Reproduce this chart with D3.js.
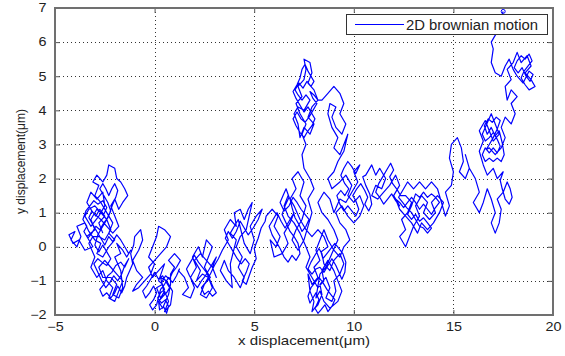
<!DOCTYPE html>
<html>
<head>
<meta charset="utf-8">
<script src="https://cdn.jsdelivr.net/npm/d3@7"></script>
<style>
  body { margin: 0; background: #fff; }
  text { font-family: "Liberation Sans", Arial, sans-serif; }
</style>
</head>
<body>
<svg id="chart" width="565" height="356"></svg>
<script>
// axis ticks
const xTicks = [-5, 0, 5, 10, 15, 20];
const yTicks = [-2, -1, 0, 1, 2, 3, 4, 5, 6, 7];
const seriesName = '2D brownian motion';

// walk, region by region (x, y in µm)
const walkA = [[-2.6,0.4],[-2.8,0.7],[-2.5,0.9],[-2.9,1.1],[-3.2,0.8],[-3.0,0.5],[-3.4,0.3],[-3.1,0.0],[-3.5,-0.1],[-3.8,0.2],[-4.1,0.1],[-4.3,0.35],[-4.0,0.45],[-4.2,0.2],[-3.9,0.0],[-3.7,0.3],[-3.9,0.6],[-3.5,0.7],[-3.3,0.45],[-3.0,0.2],[-2.7,0.1],[-2.9,-0.2],[-2.6,-0.3],[-2.3,0.0],[-2.0,0.2],[-2.3,0.4],[-2.1,0.7],[-2.4,1.0],[-2.7,1.3],[-3.0,1.5],[-2.8,1.8],[-3.1,1.9],[-2.9,2.1],[-2.6,1.9],[-2.4,2.1],[-2.3,2.4],[-2.0,2.3],[-1.9,2.0],[-1.7,1.9],[-1.5,1.7],[-1.35,1.5],[-1.6,1.3],[-1.8,1.1],[-2.0,1.4],[-2.2,1.2],[-2.0,0.9],[-1.8,0.6],[-2.1,0.4],[-2.4,0.6],[-2.7,0.8],[-3.1,1.0],[-3.4,1.3],[-3.2,1.6],[-2.9,1.4],[-2.6,1.6],[-2.5,1.2],[-2.8,0.9],[-3.2,0.6],[-3.5,0.9],[-3.3,1.1],[-3.0,1.2],[-2.7,1.0],[-2.4,0.8],[-2.2,0.5],[-2.5,0.2],[-2.8,0.3],[-3.1,0.3],[-3.3,0.1],[-3.0,-0.3],[-3.2,-0.6],[-2.9,-0.9],[-2.6,-0.7],[-2.4,-1.0],[-2.1,-1.2],[-2.3,-1.5],[-2.0,-1.6],[-1.8,-1.3],[-1.6,-1.0],[-1.9,-0.8],[-2.2,-0.6],[-2.5,-0.4],[-2.8,-0.6],[-2.6,-0.9],[-2.2,-0.9],[-1.9,-1.1],[-2.1,-1.4],[-1.8,-1.5],[-1.6,-1.2],[-1.7,-0.7],[-2.0,-0.3],[-1.7,-0.2],[-1.9,0.1],[-1.6,-0.1],[-1.4,-0.3],[-1.2,-0.1]];
const walkACore = [[-1.3,-0.2],[-1.5,0.0],[-1.7,0.2],[-1.9,0.35],[-2.1,0.15],[-2.3,0.3],[-2.5,0.05],[-2.7,0.25],[-2.9,0.45],[-3.1,0.65],[-3.3,0.85],[-3.15,1.05],[-2.95,0.9],[-2.75,1.1],[-2.55,0.95],[-2.4,1.15],[-2.6,1.35],[-2.85,1.25],[-3.05,1.35],[-3.25,1.2],[-3.45,1.05],[-3.6,0.8],[-3.4,0.6],[-3.55,0.45],[-3.35,0.25],[-3.15,0.4],[-2.95,0.6],[-2.75,0.5],[-2.55,0.7],[-2.35,0.85],[-2.2,1.05],[-2.35,1.3],[-2.55,1.5],[-2.75,1.7],[-2.6,1.85],[-2.45,1.7],[-2.3,1.5],[-2.15,1.7],[-2.0,1.85],[-1.85,1.65],[-1.95,1.45],[-2.1,1.25],[-2.25,1.0],[-2.45,0.75],[-2.65,0.55],[-2.85,0.35],[-3.0,0.05],[-2.8,-0.15],[-2.6,0.05],[-2.4,-0.15],[-2.2,-0.35],[-2.4,-0.55],[-2.65,-0.45],[-2.85,-0.35],[-3.05,-0.5],[-2.85,-0.75],[-2.65,-1.0],[-2.45,-1.2],[-2.25,-1.05],[-2.05,-0.85],[-1.85,-1.0],[-1.65,-0.8],[-1.5,-0.55],[-1.3,-0.35]];
const walkALow = [[-1.5,-0.6],[-1.7,-0.45],[-1.95,-0.55],[-2.15,-0.75],[-2.35,-0.85],[-2.55,-1.1],[-2.75,-1.25],[-2.6,-1.45],[-2.4,-1.35],[-2.2,-1.5],[-2.0,-1.35],[-1.85,-1.15],[-1.65,-1.35],[-1.5,-1.15],[-1.4,-0.9],[-1.25,-0.7],[-1.1,-0.5],[-1.2,-0.2],[-1.05,0.05]];
const walkB = [[-1.0,0.3],[-0.7,0.5],[-0.6,0.2],[-0.8,-0.1],[-1.1,-0.4],[-0.9,-0.7],[-0.6,-0.9],[-0.9,-1.1],[-1.1,-1.3],[-0.8,-1.2],[-0.5,-1.0],[-0.2,-0.8],[0.0,-0.5],[-0.3,-0.3],[-0.1,0.0],[0.1,0.3],[0.2,0.6],[0.5,0.5],[0.8,0.3],[0.6,0.0],[0.3,-0.2],[0.0,-0.4],[-0.3,-0.6],[-0.1,-0.9],[0.2,-0.7],[0.5,-0.5],[0.2,-1.0],[0.4,-1.1],[0.1,-1.2],[0.3,-1.5],[0.5,-1.3],[0.7,-1.6],[0.5,-1.9],[0.8,-1.7],[0.9,-1.3],[0.6,-1.0],[0.3,-0.9],[0.5,-1.4],[0.2,-1.6],[0.4,-1.8],[0.7,-1.4],[0.8,-1.1],[0.8,-0.8],[1.0,-0.6],[0.7,-0.4],[1.0,-0.2],[1.3,-0.4]];
const walkBCore = [[1.1,-0.6],[0.9,-0.75],[0.75,-0.95],[0.55,-0.85],[0.35,-1.05],[0.5,-1.25],[0.3,-1.35],[0.15,-1.5],[0.35,-1.65],[0.55,-1.55],[0.7,-1.75],[0.6,-1.95],[0.45,-1.75],[0.25,-1.85],[0.2,-1.6],[0.4,-1.45],[0.6,-1.35],[0.75,-1.2],[0.6,-1.05],[0.4,-0.85],[0.2,-0.95],[0.0,-0.75],[-0.2,-0.95],[-0.4,-1.15],[-0.6,-1.3],[-0.45,-1.5],[-0.25,-1.35],[-0.05,-1.15],[0.1,-1.35],[-0.05,-1.55],[-0.25,-1.7],[-0.1,-1.85],[0.1,-1.7],[0.3,-1.25],[0.5,-1.1],[0.7,-0.9],[0.9,-1.05],[1.1,-0.85],[1.25,-0.65]];
const walkC = [[1.2,-0.7],[1.5,-0.9],[1.7,-1.2],[1.4,-1.4],[1.8,-1.5],[2.0,-1.2],[1.8,-0.9],[2.1,-0.6],[1.9,-0.3],[2.2,0.0],[2.4,-0.3],[2.6,0.2],[2.9,0.0],[2.7,-0.3],[2.5,-0.6],[2.8,-0.9],[2.5,-1.1],[2.3,-1.4],[2.6,-1.5],[2.9,-1.2],[2.7,-0.9],[2.4,-0.8],[2.1,-1.0],[2.3,-0.7],[2.0,-0.4],[2.3,-0.2],[2.6,-0.4],[2.9,-0.6],[3.1,-0.9],[2.9,-0.6],[3.1,-0.3]];
const walkCCore = [[2.95,-0.45],[2.75,-0.65],[2.55,-0.85],[2.35,-1.0],[2.15,-1.2],[1.95,-1.05],[1.75,-0.85],[1.6,-0.65],[1.8,-0.45],[2.0,-0.25],[2.2,-0.45],[2.4,-0.6],[2.6,-0.75],[2.8,-1.0],[2.95,-1.2],[3.1,-1.35],[2.9,-1.45],[2.7,-1.3],[2.5,-1.4],[2.35,-1.2],[2.55,-1.05],[2.8,-0.8],[3.0,-0.55],[3.2,-0.35]];
const walkD = [[3.4,-0.1],[3.7,0.2],[3.5,0.5],[3.8,0.8],[4.1,0.6],[4.0,1.0],[4.3,1.1],[4.5,0.8],[4.7,1.1],[4.9,1.3],[4.6,0.5],[4.3,0.3],[4.1,0.0],[4.4,-0.3],[4.2,-0.6],[4.5,-0.9],[4.3,-1.2],[4.0,-0.9],[3.7,-0.7],[3.5,-0.4],[3.3,-0.7],[3.6,-1.0],[3.9,-1.2],[3.8,-0.5],[4.1,0.2],[3.8,0.4],[4.2,0.8],[4.5,0.1],[4.8,-0.2],[5.0,0.2],[4.8,0.6],[5.1,0.9],[5.4,1.1]];
const walkDCore = [[5.2,0.8],[4.95,0.55],[4.7,0.35],[4.5,0.55],[4.3,0.75],[4.1,0.45],[3.9,0.25],[3.7,0.45],[3.55,0.25],[3.75,0.05],[3.95,-0.15],[4.15,-0.35],[4.35,-0.5],[4.55,-0.35],[4.75,-0.5],[4.6,-0.75],[4.4,-1.0],[4.6,-1.1],[4.75,-0.85],[4.9,-0.6],[5.1,-0.35],[5.0,-0.05],[5.2,0.25],[5.35,0.55],[5.55,0.75]];
const walkE = [[5.6,0.9],[5.9,1.1],[6.2,0.9],[6.0,0.6],[6.3,0.3],[6.1,0.0],[5.8,0.2],[6.0,-0.3],[6.4,-0.2],[6.7,0.1],[6.5,0.4],[6.8,0.7],[7.0,1.0]];
const walkEFill = [[6.75,0.75],[6.55,0.55],[6.35,0.75],[6.15,1.0],[5.95,0.8],[5.75,0.6],[5.9,0.35],[6.1,0.15],[6.3,-0.05],[6.5,-0.3],[6.7,-0.45],[6.9,-0.25],[7.1,-0.4],[7.3,-0.2],[7.2,0.1],[7.0,0.3],[6.8,0.45],[6.6,0.7],[6.4,0.95],[6.55,1.2],[6.75,1.45],[6.6,1.7],[6.45,1.5],[6.3,1.3],[6.5,1.05],[6.75,1.2],[6.95,1.45],[7.15,1.3],[7.35,1.1],[7.55,0.95],[7.75,0.8],[7.6,0.6],[7.4,0.45],[7.25,0.65],[7.05,0.85],[6.9,1.15]];
const walkFColumn = [[6.8,1.4],[7.1,1.7],[6.9,2.0],[7.2,2.2],[7.5,1.9],[7.3,1.5],[7.6,1.2],[7.4,0.8],[7.1,0.5],[6.9,0.2],[7.2,-0.1],[7.5,0.2],[7.7,0.6],[7.9,1.0],[7.7,1.4],[8.0,1.7],[7.8,2.0],[7.5,2.3],[7.4,2.7],[7.6,3.0],[7.4,3.3],[7.6,3.6],[7.3,3.9],[7.1,4.2],[7.4,4.4],[7.2,4.7],[7.5,4.9],[7.6,5.2],[7.5,5.5],[7.8,5.4],[7.9,5.1],[7.7,4.8],[8.0,4.6],[8.2,4.3],[7.9,4.1],[7.7,3.8],[8.0,3.6],[7.8,3.3],[7.5,3.5],[7.3,3.2],[7.2,3.6],[7.0,3.9],[7.2,4.1],[7.5,4.0],[7.8,4.3]];
const walkFTop = [[7.6,4.45],[7.4,4.3],[7.2,4.45],[7.05,4.6],[7.25,4.8],[7.45,4.65],[7.65,4.85],[7.85,4.7],[8.0,4.85],[7.85,5.0],[7.7,5.15],[7.55,5.35],[7.4,5.2],[7.3,4.95],[7.15,4.75],[6.95,4.55],[7.1,4.35],[7.3,4.15],[7.5,3.95],[7.7,4.1],[7.9,3.9],[8.05,3.75],[7.9,3.55],[7.7,3.4],[7.5,3.2],[7.3,3.35],[7.1,3.55],[6.95,3.75],[7.15,3.95],[7.35,3.75],[7.55,3.65],[7.75,3.8],[7.95,4.0],[8.15,4.2],[7.95,4.35],[7.8,4.55],[8.0,4.45],[8.2,4.3]];
const walkFRight = [[8.4,4.3],[8.7,4.5],[9.0,4.7],[9.3,4.5],[9.5,4.2],[9.3,3.9],[9.6,3.6],[9.4,3.3],[9.1,3.5],[8.9,3.8],[9.1,4.1],[8.8,4.2],[8.7,3.9],[8.9,3.5],[9.2,3.2],[9.0,2.9],[9.3,2.7],[9.5,3.0],[9.7,3.3],[9.5,2.8],[9.2,2.5],[9.0,2.2],[8.7,2.0],[8.9,1.7],[9.3,1.9],[9.6,2.1],[9.9,1.8],[9.7,1.5],[10.0,1.3],[10.3,1.5],[10.5,1.2],[10.3,0.9],[10.0,0.7],[9.7,0.9],[9.4,1.2],[9.1,1.0],[9.3,0.7],[9.6,0.5],[9.8,0.2],[9.5,0.0],[9.3,-0.3],[9.0,-0.1],[8.7,0.2],[8.5,0.5],[8.3,0.2],[8.1,-0.1],[8.3,-0.4],[8.0,-0.6],[8.2,-0.9],[7.9,-1.1],[7.7,-0.8],[7.8,-1.3],[8.0,-1.6],[7.9,-1.9]];
const walkFBottom = [[8.1,-1.75],[8.25,-1.55],[8.1,-1.35],[7.95,-1.5],[7.8,-1.65],[7.7,-1.45],[7.85,-1.2],[8.05,-1.05],[8.25,-0.9],[8.45,-1.05],[8.65,-1.25],[8.85,-1.4],[9.05,-1.55],[8.9,-1.75],[8.7,-1.9],[8.55,-1.7],[8.35,-1.85],[8.2,-1.95],[8.05,-1.8],[8.2,-1.7],[8.4,-1.4],[8.3,-1.1],[8.6,-0.9],[8.8,-1.2],[8.6,-1.5],[8.9,-1.6],[9.1,-1.3],[9.0,-1.0],[9.3,-0.8],[9.5,-0.5],[9.3,-0.2],[9.0,-0.4],[8.8,-0.7],[8.5,-0.5],[8.4,-0.2],[8.25,-0.05],[8.05,-0.25],[7.85,-0.45],[7.7,-0.65],[7.9,-0.8],[8.1,-0.65],[8.3,-0.6],[8.5,-0.75],[8.7,-0.55],[8.9,-0.35],[9.1,-0.55],[9.25,-0.75],[9.4,-0.95],[9.55,-0.75],[9.6,-0.45],[9.45,-0.2],[9.25,-0.05],[9.05,0.1],[8.85,-0.05],[8.65,-0.2],[8.45,-0.35],[8.35,-0.15]];
const walkFMiddle = [[8.7,0.0],[8.5,0.3],[8.2,0.5],[7.9,0.3],[7.6,0.5],[7.3,0.8],[7.0,1.2],[6.7,1.5],[6.5,1.2],[6.7,0.9],[7.0,0.7],[7.3,0.4],[7.6,0.0],[7.8,-0.3],[7.6,-0.6],[7.9,-0.9],[8.2,-1.2],[8.5,-1.0],[8.4,-0.7],[8.7,-0.4],[9.0,-0.7],[9.2,-1.0],[9.4,-1.3],[9.2,-1.6],[8.8,-1.8],[8.5,-1.6],[8.3,-1.3],[8.1,-1.5],[8.3,-0.8],[8.6,-0.6],[8.9,-0.2],[9.2,0.2],[9.0,0.5],[8.7,0.8],[8.4,1.0],[8.2,1.3],[8.5,1.6],[8.8,1.4],[9.0,1.0],[9.3,1.4],[9.6,1.3],[9.9,1.6],[10.2,1.9],[10.0,2.2],[10.3,2.4]];
const walkFEast = [[10.1,2.15],[9.9,2.35],[9.7,2.5],[9.5,2.3],[9.35,2.1],[9.55,1.85],[9.75,1.7],[9.55,1.5],[9.35,1.65],[9.15,1.5],[9.3,1.25],[9.5,1.05],[9.7,1.2],[9.9,1.05],[10.1,0.9],[10.25,1.1],[10.1,1.35],[9.95,1.5],[10.15,1.7],[10.35,1.85],[10.55,1.65],[10.7,1.45],[10.55,1.25],[10.75,1.05],[10.9,1.25],[10.8,1.55],[10.6,1.8],[10.45,2.05]];
const walkG = [[10.6,2.1],[10.9,2.4],[11.1,2.1],[11.3,2.3],[11.6,2.0],[11.4,1.7],[11.1,1.8],[10.9,1.5],[11.2,1.4],[11.5,1.6],[11.8,1.8],[12.1,2.1],[12.3,1.8],[12.0,1.5],[12.3,1.2]];
const walkGFill = [[12.1,1.35],[11.9,1.55],[11.7,1.4],[11.5,1.25],[11.3,1.45],[11.1,1.6],[11.25,1.85],[11.45,2.05],[11.65,2.25],[11.85,2.45],[12.0,2.25],[11.8,2.05],[11.95,1.85],[12.15,1.7],[12.35,1.5]];
const walkH = [[12.6,1.5],[12.9,1.3],[12.7,1.0],[12.4,0.8],[12.6,0.5],[12.3,0.3],[12.6,0.0],[12.8,0.3],[13.0,0.6],[13.3,0.9],[13.1,1.2],[13.4,1.5],[13.7,1.3],[13.5,1.0],[13.8,0.8],[14.1,1.0],[13.9,1.3],[14.2,1.5],[14.5,1.3],[14.3,1.0],[14.0,0.7],[13.7,0.5],[13.4,0.7],[13.2,0.4],[12.9,0.7],[12.6,0.9],[12.3,1.1],[12.1,1.4]];
const walkHCore = [[12.3,1.3],[12.5,1.15],[12.7,1.3],[12.9,1.45],[13.1,1.3],[13.3,1.1],[13.5,1.25],[13.7,1.1],[13.9,0.95],[14.1,1.15],[14.3,1.3],[14.1,1.45],[13.9,1.55],[13.7,1.45],[13.5,1.6],[13.3,1.45],[13.1,1.55],[12.9,1.2],[12.7,0.95],[12.9,0.8],[13.1,0.95],[13.3,0.75],[13.5,0.85],[13.7,0.7],[13.9,0.55],[13.7,0.4],[13.5,0.55],[13.3,0.6],[13.1,0.8],[12.9,1.0],[12.65,1.15],[12.45,1.3],[12.25,1.45]];
const walkI = [[12.4,1.6],[12.7,1.9],[13.0,1.7],[13.3,1.9],[13.6,1.7],[13.9,1.9],[14.2,1.7],[14.6,0.9],[14.8,1.2],[14.6,1.6],[14.9,1.8],[15.0,2.2],[14.8,2.6],[14.9,3.0],[15.2,3.2],[15.4,2.9],[15.5,2.5],[15.3,2.2],[15.6,2.0],[15.8,2.3],[15.6,2.7]];
const walkJ = [[15.8,2.3],[16.1,2.0],[16.3,1.6],[16.0,1.3],[16.3,1.0],[16.5,1.3],[16.7,1.7],[16.9,1.4],[17.1,1.0],[16.9,0.7],[17.1,0.4],[17.3,0.7],[17.4,1.1],[17.2,1.4],[17.5,1.6],[17.7,1.9],[17.85,1.7],[17.95,1.45],[17.8,1.25],[17.6,1.4],[17.45,1.7],[17.35,1.95],[17.5,2.2],[17.2,2.0],[17.0,2.3],[16.7,2.1],[16.5,2.4],[16.3,2.8],[16.5,3.1],[16.3,3.4],[16.6,3.7],[16.8,3.4],[17.0,3.1],[17.3,3.3],[17.1,3.6],[16.9,3.9],[16.6,3.5]];
const walkJCore = [[16.45,3.3],[16.6,3.1],[16.8,3.2],[17.0,3.35],[17.2,3.15],[17.35,2.95],[17.2,2.75],[17.0,2.9],[16.8,2.75],[16.6,2.9],[16.45,2.7],[16.6,2.5],[16.8,2.6],[17.0,2.5],[17.2,2.6],[17.4,2.5],[17.55,2.7],[17.45,3.05],[17.3,3.4],[17.1,3.25],[16.9,3.5],[16.7,3.3],[16.55,3.55],[16.75,3.75],[16.95,3.65],[17.15,3.8],[17.35,3.7],[17.2,3.45],[17.0,3.2],[16.8,3.0],[16.65,2.85],[16.8,2.9],[17.1,2.7],[17.4,2.9],[17.6,3.2],[17.4,3.5],[17.6,3.8],[17.9,3.6],[18.1,3.9],[17.9,4.2],[18.2,4.4],[17.9,4.6],[17.7,4.3]];
const walkK = [[17.6,4.7],[17.9,4.9],[17.7,5.2],[18.0,5.4],[18.2,5.7],[18.4,5.4],[18.7,5.6],[18.9,5.3],[18.6,5.1],[18.9,4.9],[19.1,4.7],[18.8,4.6],[18.6,4.75],[18.4,4.95],[18.55,5.15],[18.75,5.3],[18.95,5.45],[18.8,5.65],[18.6,5.5],[18.4,5.6],[18.2,5.45],[18.05,5.25],[18.25,5.1],[18.45,5.25],[18.65,5.0],[18.85,4.85],[19.0,5.05],[18.8,5.15],[18.5,4.8],[18.2,5.0],[18.0,5.2],[17.8,5.5],[17.6,5.3],[17.4,5.0],[17.1,5.1],[16.9,5.4],[17.0,5.8],[16.9,6.0],[17.2,6.3],[17.3,6.6],[17.5,6.9]];

const walk = [].concat(walkA, walkACore, walkALow, walkB, walkBCore, walkC, walkCCore, walkD, walkDCore,
  walkE, walkEFill, walkFColumn, walkFTop, walkFRight, walkFBottom, walkFMiddle, walkFEast,
  walkG, walkGFill, walkH, walkHCore, walkI, walkJ, walkJCore, walkK);

const svg = d3.select('#chart');

const x = d3.scaleLinear().domain([-5, 20]).range([55, 553]);
const y = d3.scaleLinear().domain([-2, 7]).range([315, 8]);

// dotted grid
const grid = svg.append('g')
  .attr('stroke', '#333')
  .attr('stroke-width', 1)
  .attr('stroke-dasharray', '1,3');

grid.selectAll('line.vx')
  .data(xTicks.slice(1, -1))
  .enter()
  .append('line')
  .attr('x1', d => Math.round(x(d)) + 0.5)
  .attr('x2', d => Math.round(x(d)) + 0.5)
  .attr('y1', y(7))
  .attr('y2', y(-2));

grid.selectAll('line.hy')
  .data(yTicks.slice(1, -1))
  .enter()
  .append('line')
  .attr('y1', d => Math.round(y(d)) + 0.5)
  .attr('y2', d => Math.round(y(d)) + 0.5)
  .attr('x1', x(-5))
  .attr('x2', x(20));

// the walk
svg.append('defs').append('clipPath').attr('id', 'plot')
  .append('rect')
  .attr('x', x(-5)).attr('y', y(7))
  .attr('width', x(20) - x(-5)).attr('height', y(-2) - y(7));

const line = d3.line()
  .x(d => x(d[0]))
  .y(d => y(d[1]));

svg.append('path')
  .datum(walk)
  .attr('clip-path', 'url(#plot)')
  .attr('fill', 'none')
  .attr('stroke', '#0000ff')
  .attr('stroke-width', 1.2)
  .attr('stroke-linejoin', 'round')
  .attr('d', line);

const last = walk[walk.length - 1];
svg.append('circle')
  .attr('cx', x(last[0]))
  .attr('cy', y(last[1]))
  .attr('r', 2)
  .attr('fill', 'none')
  .attr('stroke', '#0000ff');

// axes, ticks pointing inward; labels a bit wide like the exported figure
function styleAxis(g) {
  g.select('.domain').remove();
  g.selectAll('.tick line').attr('stroke', '#555');
  g.selectAll('.tick text')
    .attr('fill', '#222')
    .attr('transform', 'scale(1.2,1)')
    .style('font-size', '12px')
    .style('font-family', '"Liberation Sans", Arial, sans-serif');
}

svg.append('g')
  .attr('transform', `translate(0,${y(-2)})`)
  .call(d3.axisBottom(x).tickValues(xTicks).tickSize(-5).tickPadding(7))
  .call(styleAxis);

svg.append('g')
  .attr('transform', `translate(0,${y(7)})`)
  .call(d3.axisTop(x).tickValues(xTicks).tickSize(-5).tickFormat(''))
  .call(styleAxis);

svg.append('g')
  .attr('transform', `translate(${x(-5)},0)`)
  .call(d3.axisLeft(y).tickValues(yTicks).tickSize(-5).tickPadding(7))
  .call(styleAxis);

svg.append('g')
  .attr('transform', `translate(${x(20)},0)`)
  .call(d3.axisRight(y).tickValues(yTicks).tickSize(-5).tickFormat(''))
  .call(styleAxis);

// frame
svg.append('rect')
  .attr('x', x(-5)).attr('y', y(7))
  .attr('width', x(20) - x(-5)).attr('height', y(-2) - y(7))
  .attr('fill', 'none')
  .attr('stroke', '#707070')
  .attr('stroke-width', 2);

// axis titles
svg.append('text')
  .attr('x', (x(-5) + x(20)) / 2)
  .attr('y', 345)
  .attr('text-anchor', 'middle')
  .attr('fill', '#222')
  .attr('textLength', 132)
  .attr('lengthAdjust', 'spacingAndGlyphs')
  .style('font-size', '13.5px')
  .text('x displacement(μm)');

svg.append('text')
  .attr('transform', `translate(24.5,${(y(7) + y(-2)) / 2}) rotate(-90)`)
  .attr('text-anchor', 'middle')
  .attr('fill', '#222')
  .style('font-size', '12px')
  .text('y displacement(μm)');

// legend
const legend = svg.append('g');
legend.append('rect')
  .attr('x', 346.5).attr('y', 14.5)
  .attr('width', 201).attr('height', 20)
  .attr('fill', '#fff')
  .attr('stroke', '#333')
  .attr('stroke-width', 1);
legend.append('line')
  .attr('x1', 355).attr('x2', 404)
  .attr('y1', 24.5).attr('y2', 24.5)
  .attr('stroke', '#0000ff');
legend.append('text')
  .attr('x', 406).attr('y', 30)
  .attr('fill', '#222')
  .attr('textLength', 132)
  .attr('lengthAdjust', 'spacingAndGlyphs')
  .style('font-size', '14px')
  .text(seriesName);
</script>
</body>
</html>
